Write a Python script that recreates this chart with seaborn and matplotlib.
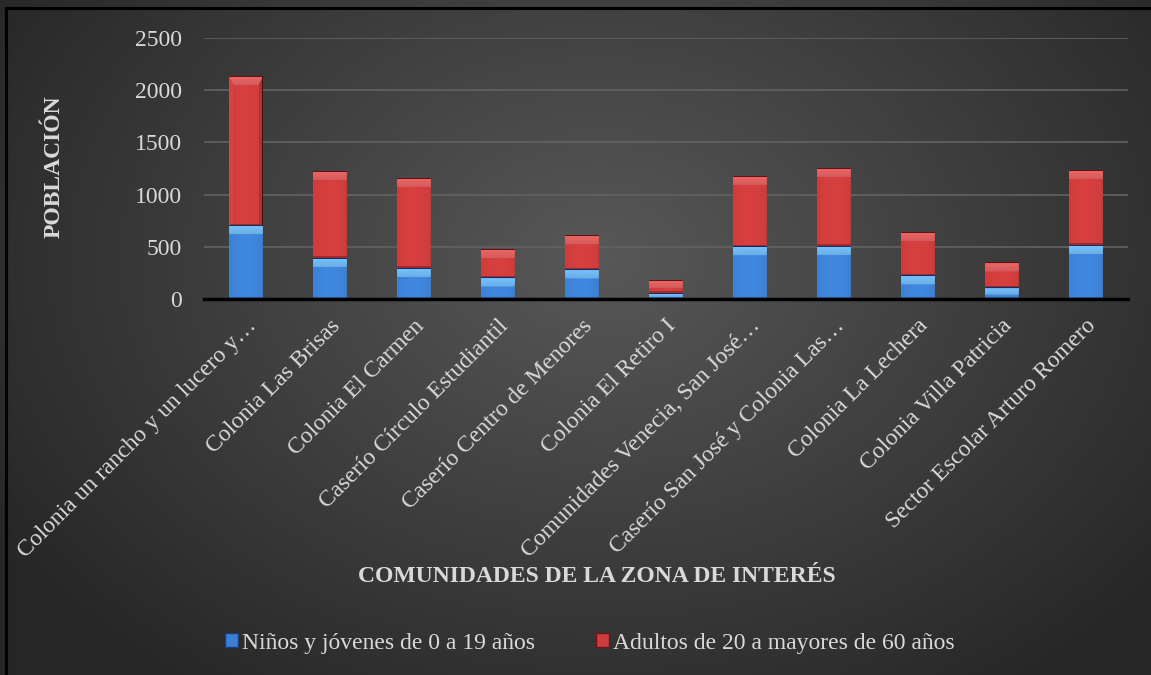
import numpy as np
import pandas as pd
import matplotlib
matplotlib.use("Agg")
import matplotlib.pyplot as plt
import matplotlib.transforms as mtransforms
from matplotlib.patches import Patch, Rectangle
import seaborn as sns

# ---- data ----
comunidades = [
    "Colonia un rancho y un lucero y…",
    "Colonia Las Brisas",
    "Colonia El Carmen",
    "Caserío Círculo Estudiantil",
    "Caserío Centro de Menores",
    "Colonia El Retiro I",
    "Comunidades Venecia, San José…",
    "Caserío San José y Colonia Las…",
    "Colonia La Lechera",
    "Colonia Villa Patricia",
    "Sector Escolar Arturo Romero",
]
ninos = [700, 390, 295, 205, 280, 57, 500, 505, 220, 108, 515]
adultos = [1430, 830, 860, 273, 326, 122, 674, 745, 418, 243, 712]
serie_ninos = "Niños y jóvenes de 0 a 19 años"
serie_adultos = "Adultos de 20 a mayores de 60 años"
y_ticks = [0, 500, 1000, 1500, 2000, 2500]

df = pd.DataFrame({"comunidad": comunidades, "ninos": ninos, "adultos": adultos})
df["total"] = df["ninos"] + df["adultos"]

sns.set_theme(style="dark")
plt.rcParams["font.family"] = ["Liberation Serif", "DejaVu Serif"]

TXT = "#d9d9d9"
W, H, DPI = 11.51, 6.75, 100
fig = plt.figure(figsize=(W, H), dpi=DPI)
fig.patch.set_facecolor("#2b2b2b")

# radial gradient backdrop
bg = fig.add_axes([0, 0, 1, 1], zorder=-10)
gy, gx = np.mgrid[0:675, 0:1151]
r = np.sqrt(((gx - 600) / 700.0) ** 2 + ((gy - 260) / 520.0) ** 2)
shade = np.clip(0.345 - 0.19 * r, 0.15, 0.35)
bg.imshow(np.dstack([shade] * 3), extent=(0, 1, 0, 1), aspect="auto",
          interpolation="bilinear")
bg.set_axis_off()

ax = fig.add_axes([204 / 1151, 1 - 299.3 / 675, 924 / 1151, 261.6 / 675])
ax.set_facecolor("none")

BLUE = "#3c80d3"
RED = "#cc3c3c"

# stacked bars: totals first, then the lower segment on top
sns.barplot(data=df, x="comunidad", y="total", color=RED, width=0.4,
            saturation=1, ax=ax, zorder=2, label=serie_adultos,
            linewidth=0, edgecolor="none")
sns.barplot(data=df, x="comunidad", y="ninos", color=BLUE, width=0.4,
            saturation=1, ax=ax, zorder=2, label=serie_ninos,
            linewidth=0, edgecolor="none")

ax.set_ylim(0, 2500)
ax.set_yticks(y_ticks)
ax.set_yticklabels([str(v) for v in y_ticks], color=TXT, fontsize=17)
ax.yaxis.grid(True, color="#626262", linewidth=1.2)
ax.xaxis.grid(False)
ax.set_axisbelow(True)
for s in ["top", "right", "left"]:
    ax.spines[s].set_visible(False)
ax.spines["bottom"].set_color("black")
ax.spines["bottom"].set_linewidth(2.5)
ax.spines["bottom"].set_zorder(5)
ax.tick_params(axis="y", length=0, pad=16)
ax.tick_params(axis="x", length=0, pad=17)
ax.set_xticks(range(len(comunidades)))
ax.set_xticklabels(comunidades, rotation=45, ha="right", va="center",
                   rotation_mode="anchor", color=TXT, fontsize=17)
offset = mtransforms.ScaledTranslation(5 / 72, 0, fig.dpi_scale_trans)
for lbl in ax.get_xticklabels():
    lbl.set_transform(lbl.get_transform() + offset)
ax.set_xlabel("")
ax.set_ylabel("")
if ax.get_legend() is not None:
    ax.get_legend().remove()


def bevel(wpx, hpx, base, light, lside, rside, dark, outline,
          top=9.0, edge=4.0, bottom=2.0):
    h, w = max(int(round(hpx)), 2), max(int(round(wpx)), 2)
    yy, xx = np.mgrid[0:h, 0:w].astype(float)
    t = min(top, h * 0.55)
    d = np.stack([yy / t, (h - 1 - yy) / bottom, xx / edge, (w - 1 - xx) / edge])
    which = d.argmin(0)
    inside = d.min(0) < 1
    img = np.empty((h, w, 3))
    img[:] = base
    body = 1.0 + 0.06 * np.sin(np.pi * xx / max(w - 1, 1))
    img *= body[..., None]
    # top facet brightens toward the upper edge
    ramp = (1.0 - yy / t)[..., None]
    top_col = light[None, None, :] * (0.92 + 0.12 * ramp)
    m = inside & (which == 0)
    img[m] = top_col[m]
    img[inside & (which == 1)] = dark
    img[inside & (which == 2)] = lside
    img[inside & (which == 3)] = rside
    # dark rim along the right side and top
    img[:, -1] = outline
    img[0, :] = outline * 1.3
    return np.clip(img, 0, 1)


def rgb(hexstr):
    return np.array(matplotlib.colors.to_rgb(hexstr))


red_style = (rgb(RED), rgb("#e46262"), rgb("#d24444"), rgb("#b43030"),
             rgb("#a02a2a"), rgb("#4a0e0e"))
blue_style = (rgb(BLUE), rgb("#72bbf6"), rgb("#4a8edc"), rgb("#3069b5"),
              rgb("#2f66ad"), rgb("#10244a"))

fig.canvas.draw()
to_px = ax.transData
n = len(comunidades)
segments = []
for i, p in enumerate(ax.patches[:n]):
    segments.append((p.get_x(), p.get_width(), ninos[i], ninos[i] + adultos[i], red_style))
for i, p in enumerate(ax.patches[n:2 * n]):
    segments.append((p.get_x(), p.get_width(), 0, ninos[i], blue_style))

for x0, w, y0, y1, style in segments:
    (px0, py0), (px1, py1) = to_px.transform([(x0, y0), (x0 + w, y1)])
    img = bevel(abs(px1 - px0), abs(py1 - py0), *style)
    ax.imshow(img, extent=(x0, x0 + w, y0, y1), aspect="auto", zorder=3,
              interpolation="bilinear")
ax.set_xlim(-0.5, n - 0.5)
ax.set_ylim(0, 2500)

fig.text(54 / 1151, 1 - 167 / 675, "POBLACIÓN", rotation=90, ha="center",
         va="center", color=TXT, fontsize=17, fontweight="bold")
fig.text(597 / 1151, 1 - 577 / 675, "COMUNIDADES DE LA ZONA DE INTERÉS",
         ha="center", va="center", color=TXT, fontsize=17, fontweight="bold")

handles = [Patch(facecolor=BLUE, edgecolor="#1a3f80", label=serie_ninos),
           Patch(facecolor=RED, edgecolor="#701515", label=serie_adultos)]
fig.legend(handles=handles, loc="center", bbox_to_anchor=(590 / 1151, 1 - 643 / 675),
           ncol=2, frameon=False, fontsize=17, labelcolor=TXT,
           handlelength=0.55, handleheight=0.55, handletextpad=0.15,
           columnspacing=2.6)

fig.add_artist(Rectangle((6 / 1151, -0.01), 1.2, 1 - 7.5 / 675 + 0.01,
                         transform=fig.transFigure, fill=False,
                         edgecolor="black", linewidth=2.2, zorder=20))

fig.savefig("out.png", dpi=DPI, facecolor=fig.get_facecolor())
